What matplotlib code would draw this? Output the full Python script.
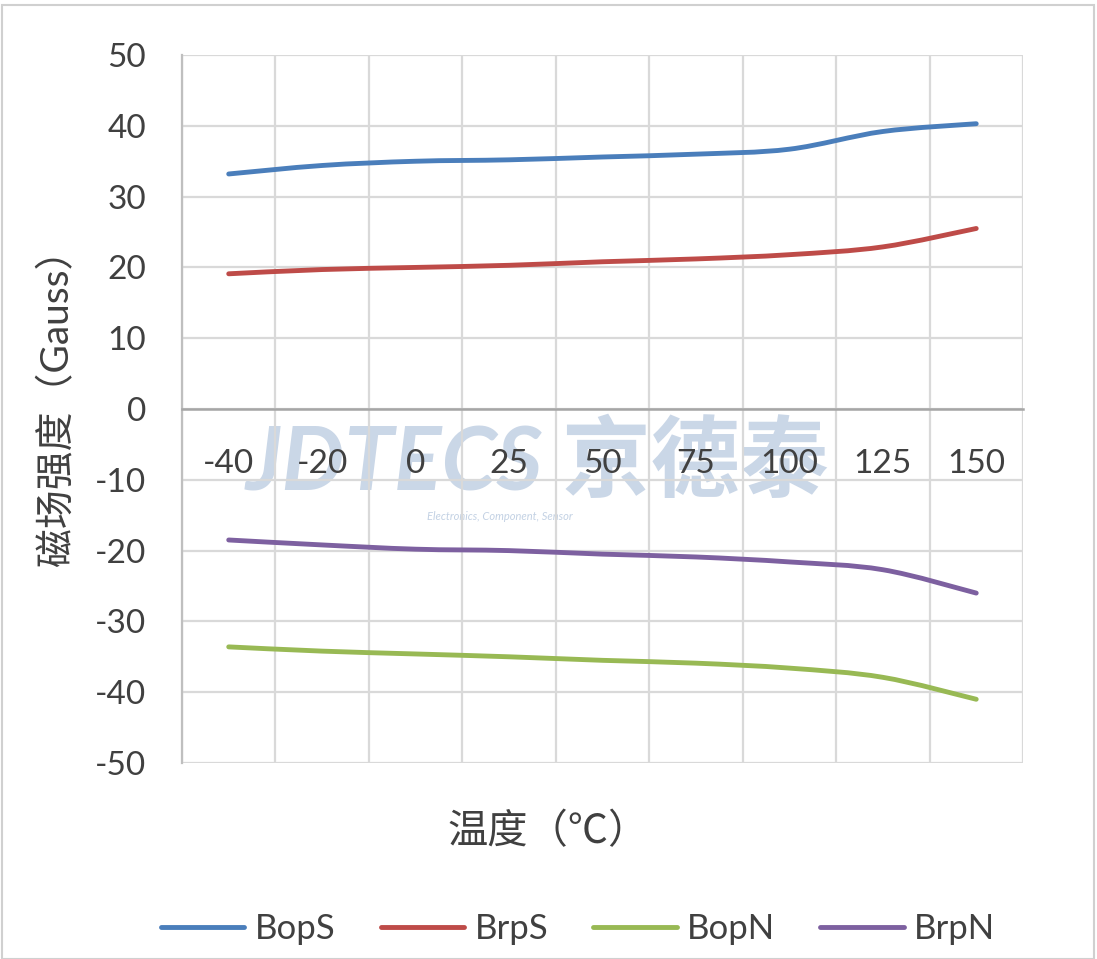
import numpy as np
import matplotlib
matplotlib.use("Agg")
import matplotlib.pyplot as plt
from matplotlib.path import Path
from matplotlib.patches import PathPatch, Rectangle
from matplotlib.lines import Line2D

plt.rcParams['font.family'] = ['Lato', 'Noto Sans CJK SC', 'DejaVu Sans']
plt.rcParams['axes.unicode_minus'] = False

temps = ['-40', '-20', '0', '25', '50', '75', '100', '125', '150']
bop_s = [33.2, 34.4, 35.0, 35.2, 35.6, 36.0, 36.7, 39.2, 40.3]
brp_s = [19.1, 19.7, 20.0, 20.3, 20.8, 21.2, 21.8, 22.9, 25.5]
bop_n = [-33.6, -34.2, -34.6, -35.0, -35.5, -35.9, -36.6, -37.9, -41.0]
brp_n = [-18.5, -19.2, -19.8, -20.0, -20.5, -20.9, -21.6, -22.7, -26.0]

series = [('BopS', bop_s, '#4a7ebb'),
          ('BrpS', brp_s, '#be4b48'),
          ('BopN', bop_n, '#98b954'),
          ('BrpN', brp_n, '#7d60a0')]


def smooth_path(xs, ys):
    # Excel style smoothed line: Catmull-Rom segments as cubic Beziers
    pts = np.column_stack([xs, ys]).astype(float)
    n = len(pts)
    verts = [pts[0]]
    codes = [Path.MOVETO]
    for i in range(n - 1):
        p0 = pts[max(i - 1, 0)]
        p1 = pts[i]
        p2 = pts[i + 1]
        p3 = pts[min(i + 2, n - 1)]
        verts += [p1 + (p2 - p0) / 6, p2 - (p3 - p1) / 6, p2]
        codes += [Path.CURVE4] * 3
    return Path(verts, codes)


fig = plt.figure(figsize=(10.97, 9.59), dpi=100)
ax = fig.add_axes([0.1659, 0.2044, 0.7666, 0.7382])

x = np.arange(len(temps))
handles = []
for name, vals, col in series:
    patch = PathPatch(smooth_path(x, vals), fill=False, edgecolor=col,
                      lw=3.5, capstyle='round', joinstyle='round', zorder=3)
    ax.add_patch(patch)
    handles.append(Line2D([], [], color=col, lw=3.5, solid_capstyle='round', label=name))

ax.set_xlim(-0.5, len(temps) - 0.5)
ax.set_ylim(-50, 50)
ax.set_yticks(np.arange(-50, 51, 10))
ax.set_xticks(x)
ax.set_xticklabels(temps)
ax.set_xticks(np.arange(-0.5, len(temps), 1), minor=True)

ax.grid(True, which='minor', axis='x', color='#d9d9d9', lw=1.6)
ax.grid(True, which='major', axis='y', color='#d9d9d9', lw=1.6)
ax.set_axisbelow(True)

for s in ['top', 'right']:
    ax.spines[s].set_visible(False)
ax.spines['left'].set_color('#bfbfbf')
ax.spines['left'].set_linewidth(1.6)
ax.spines['bottom'].set_position(('data', 0))
ax.spines['bottom'].set_color('#a6a6a6')
ax.spines['bottom'].set_linewidth(1.8)

ax.tick_params(axis='both', which='both', length=0, labelsize=24, colors='#404040')
ax.tick_params(axis='x', pad=29)
ax.tick_params(axis='y', pad=26)

# watermark (under the tick labels)
ax.text(3.3, -7.6, 'JDTECS 京德泰', fontsize=64, fontweight='bold', style='italic',
        color='#b4c6dd', alpha=0.7, ha='center', va='center', zorder=0.3)
ax.text(2.9, -15.2, 'Electronics, Component, Sensor', fontsize=8, style='italic',
        color='#b4c6dd', alpha=0.8, ha='center', va='center', zorder=0.3)

fig.text(0.052, 0.585, '磁场强度（Gauss）', rotation=90, fontsize=28, color='#404040',
         ha='center', va='center')
fig.text(0.50, 0.134, '温度（℃）', fontsize=29, color='#404040', ha='center', va='center')

fig.legend(handles=handles, loc='center', bbox_to_anchor=(0.527, 0.031), ncol=4,
           frameon=False, fontsize=25, handlelength=2.4, columnspacing=1.3,
           handletextpad=0.3, labelcolor='#404040')

fig.patches.append(Rectangle((0.002, 0.0), 0.995, 0.995, transform=fig.transFigure,
                             fill=False, edgecolor='#d0d0d0', lw=1.5))

fig.savefig('out.png', dpi=100)
